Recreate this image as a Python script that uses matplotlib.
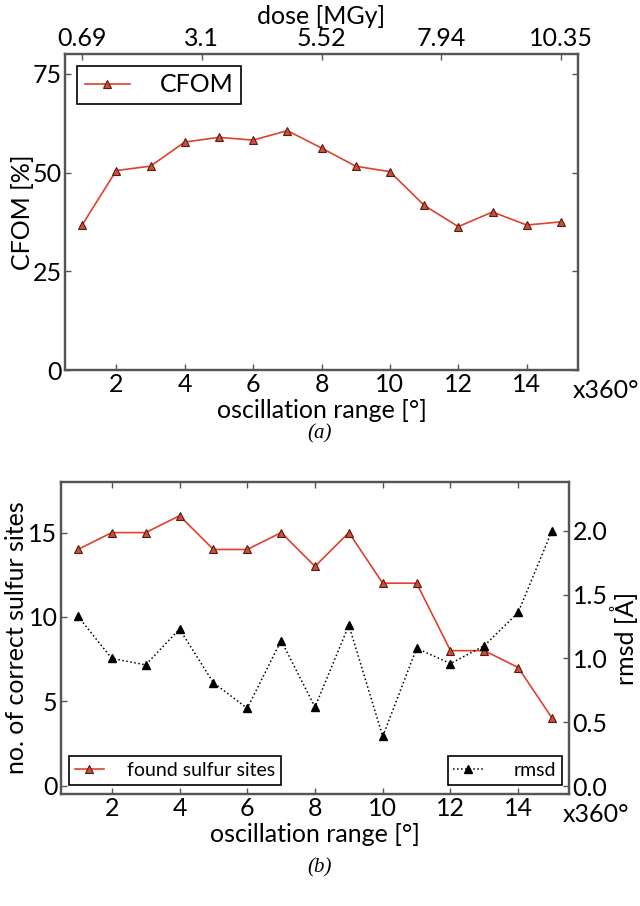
import matplotlib
matplotlib.use("Agg")
import matplotlib.pyplot as plt

plt.rcParams['font.family'] = ['Lato', 'DejaVu Sans']

osc = list(range(1, 16))
cfom = [36.7, 50.5, 51.6, 57.7, 58.9, 58.2, 60.6, 56.2, 51.6, 50.2, 41.7, 36.3, 40.0, 36.7, 37.5]
dose_ticks = [1, 4.5, 8, 11.5, 15]
dose_labels = ['0.69', '3.1', '5.52', '7.94', '10.35']
sulfur = [14, 15, 15, 16, 14, 14, 15, 13, 15, 12, 12, 8, 8, 7, 4]
rmsd = [1.33, 1.00, 0.95, 1.23, 0.81, 0.61, 1.14, 0.62, 1.26, 0.39, 1.08, 0.96, 1.10, 1.36, 2.00]

W, H = 640, 906
fig = plt.figure(figsize=(W / 100, H / 100), dpi=100)

line_red = '#e0402c'
face_red = '#c8503c'
edge_dark = '#5a1a10'
spine_col = '#555555'
fs_tick = 18
fs_label = 18


def style(ax):
    for s in ax.spines.values():
        s.set_color(spine_col)
        s.set_linewidth(1.6)
    ax.tick_params(direction='in', length=4, width=1, colors='#555555',
                   labelcolor='black', labelsize=fs_tick, pad=2.5)


# ---------- panel (a)
ax1 = fig.add_axes([65 / W, 1 - 370 / H, (578 - 65) / W, (370 - 54) / H])
ax1.plot(osc, cfom, color=line_red, lw=1.2, marker='^', ms=6,
         mfc=face_red, mec=edge_dark, mew=0.8, label='CFOM')
ax1.set_xlim(0.5, 15.5)
ax1.set_ylim(0, 80)
ax1.set_yticks([0, 25, 50, 75])
ax1.set_xticks([2, 4, 6, 8, 10, 12, 14])
style(ax1)
ax1.tick_params(right=True, top=False)
ax1.set_xlabel('oscillation range [°]', fontsize=fs_label, labelpad=1.5)
ax1.set_ylabel('CFOM [%]', fontsize=fs_label, labelpad=-1)
leg1 = ax1.legend(loc='upper left', fontsize=18, fancybox=False, framealpha=1,
                  edgecolor='black', borderpad=0.3, handlelength=1.8,
                  handletextpad=1.2, borderaxespad=0,
                  bbox_to_anchor=(12 / 513, 1 - 12 / 316))
leg1.get_frame().set_linewidth(1.2)
ax1.text(0.99, -0.03, 'x360°', transform=ax1.transAxes, fontsize=fs_tick,
         ha='left', va='top')

axt = ax1.twiny()
axt.set_xlim(0.5, 15.5)
axt.set_xticks(dose_ticks)
axt.set_xticklabels(dose_labels)
style(axt)
axt.tick_params(pad=3)
axt.set_xlabel('dose [MGy]', fontsize=fs_label, labelpad=2)

fig.text(0.5, 1 - 434 / H, '(a)', fontsize=15, family='Liberation Serif',
         style='italic', ha='center', va='center')

# ---------- panel (b)
ax2 = fig.add_axes([61 / W, 1 - 794 / H, (569 - 61) / W, (794 - 482) / H])
l1, = ax2.plot(osc, sulfur, color=line_red, lw=1.2, marker='^', ms=6,
               mfc=face_red, mec=edge_dark, mew=0.8, label='found sulfur sites')
ax2.set_xlim(0.5, 15.5)
ax2.set_ylim(-0.5, 18)
ax2.set_yticks([0, 5, 10, 15])
ax2.set_xticks([2, 4, 6, 8, 10, 12, 14])
style(ax2)
ax2.tick_params(top=True, right=False)
ax2.set_xlabel('oscillation range [°]', fontsize=fs_label, labelpad=1.5)
ax2.set_ylabel('no. of correct sulfur sites', fontsize=fs_label, labelpad=0)
ax2.text(0.988, -0.03, 'x360°', transform=ax2.transAxes, fontsize=fs_tick,
         ha='left', va='top')

ax3 = ax2.twinx()
l2, = ax3.plot(osc, rmsd, color='black', lw=1.1, ls=':', marker='^', ms=6,
               mfc='black', mec='black', label='rmsd')
ax3.set_ylim(-0.06, 2.38)
ax3.set_yticks([0.0, 0.5, 1.0, 1.5, 2.0])
ax3.set_yticklabels(['0.0', '0.5', '1.0', '1.5', '2.0'])
style(ax3)
ax3.set_ylabel('rmsd [Å]', fontsize=fs_label, labelpad=2)

lg2 = ax2.legend(handles=[l1], loc='lower left', fontsize=14, fancybox=False,
                 framealpha=1, edgecolor='black', handlelength=1.5,
                 handletextpad=1.2, borderpad=0.3, borderaxespad=0,
                 bbox_to_anchor=(8 / 508, 9 / 312))
lg2.get_frame().set_linewidth(1.2)
lg3 = ax3.legend(handles=[l2], loc='lower right', fontsize=14, fancybox=False,
                 framealpha=1, edgecolor='black', handlelength=1.5,
                 handletextpad=1.6, borderpad=0.3, borderaxespad=0,
                 bbox_to_anchor=(1 - 7 / 508, 9 / 312))
lg3.get_frame().set_linewidth(1.2)

fig.text(0.5, 1 - 868 / H, '(b)', fontsize=15, family='Liberation Serif',
         style='italic', ha='center', va='center')

fig.savefig('out.png', dpi=100)
